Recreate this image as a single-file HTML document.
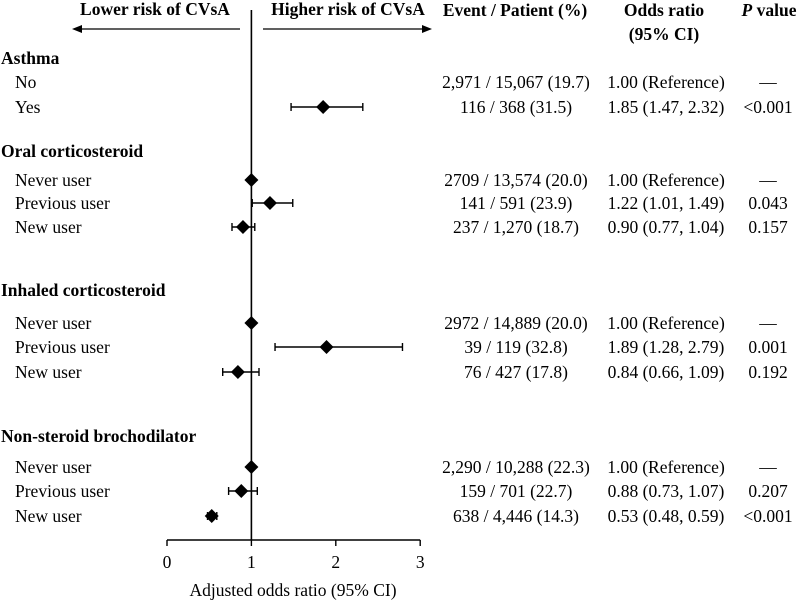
<!DOCTYPE html>
<html><head><meta charset="utf-8"><style>
body{margin:0;background:#fff}
svg text{font-family:"Liberation Serif",serif;fill:#000}
</style></head><body>
<svg width="800" height="603" viewBox="0 0 800 603" id="chart"></svg>
<script>
const labels=["Asthma","No","Yes","Oral corticosteroid","Never user","Previous user","New user","Inhaled corticosteroid","Never user","Previous user","New user","Non-steroid brochodilator","Never user","Previous user","New user"];
const isHeader=[1,0,0,1,0,0,0,1,0,0,0,1,0,0,0];
const rowY=[58,82,107,151,180,203,227,290,323,347,372,436,467,491,516];
const orVals=[null,null,1.85,null,1,1.22,0.90,null,1,1.89,0.84,null,1,0.88,0.53];
const loVals=[null,null,1.47,null,null,1.01,0.77,null,null,1.28,0.66,null,null,0.73,0.48];
const hiVals=[null,null,2.32,null,null,1.49,1.04,null,null,2.79,1.09,null,null,1.07,0.59];
const events=["","2,971 / 15,067 (19.7)","116 / 368 (31.5)","","2709 / 13,574 (20.0)","141 / 591 (23.9)","237 / 1,270 (18.7)","","2972 / 14,889 (20.0)","39 / 119 (32.8)","76 / 427 (17.8)","","2,290 / 10,288 (22.3)","159 / 701 (22.7)","638 / 4,446 (14.3)"];
const orText=["","1.00 (Reference)","1.85 (1.47, 2.32)","","1.00 (Reference)","1.22 (1.01, 1.49)","0.90 (0.77, 1.04)","","1.00 (Reference)","1.89 (1.28, 2.79)","0.84 (0.66, 1.09)","","1.00 (Reference)","0.88 (0.73, 1.07)","0.53 (0.48, 0.59)"];
const pText=["","\u2014","<0.001","","\u2014","0.043","0.157","","\u2014","0.001","0.192","","\u2014","0.207","<0.001"];
const ticks=[0,1,2,3];
const svg=document.getElementById('chart');
const NS='http://www.w3.org/2000/svg';
const x=v=>167+v*84.4;
const axisY=540;
const FS=17.5;
const HS=17.5;
function el(tag,attrs,txt){const e=document.createElementNS(NS,tag);for(const k in attrs)e.setAttribute(k,attrs[k]);if(txt!==undefined)e.textContent=txt;svg.appendChild(e);return e;}
let t;
t=el('text',{x:155,y:15,'font-size':HS,'font-weight':'bold','text-anchor':'middle'},'Lower risk of CVsA');

t=el('text',{x:348,y:15,'font-size':HS,'font-weight':'bold','text-anchor':'middle'},'Higher risk of CVsA');

t=el('line',{x1:240,y1:29,x2:80,y2:29,stroke:'#000','stroke-width':1.3});

el('polygon',{points:'72,29 82,25 82,33',fill:'#000'});
t=el('line',{x1:263,y1:29,x2:424,y2:29,stroke:'#000','stroke-width':1.3});

el('polygon',{points:'432,29 422,25 422,33',fill:'#000'});
t=el('text',{x:515,y:16,'font-size':HS,'font-weight':'bold','text-anchor':'middle'},'Event / Patient (%)');

t=el('text',{x:664,y:16,'font-size':HS,'font-weight':'bold','text-anchor':'middle'},'Odds ratio');

el('text',{x:664,y:40,'font-size':HS,'font-weight':'bold','text-anchor':'middle'},'(95% CI)');
t=el('text',{x:769,y:16,'font-size':HS,'font-weight':'bold','text-anchor':'middle'});
t.innerHTML='<tspan font-style="italic">P</tspan> value';

t=el('line',{x1:x(1),y1:10,x2:x(1),y2:axisY,stroke:'#000','stroke-width':1.6});

t=el('line',{x1:x(0),y1:axisY,x2:x(3),y2:axisY,stroke:'#000','stroke-width':1.4});

ticks.forEach(v=>{
  el('line',{x1:x(v),y1:axisY,x2:x(v),y2:axisY+6,stroke:'#000','stroke-width':1.4});
  const tl=el('text',{x:x(v),y:568,'font-size':FS,'text-anchor':'middle'},String(v));
  
});
t=el('text',{x:293,y:596,'font-size':FS,'text-anchor':'middle'},'Adjusted odds ratio (95% CI)');

labels.forEach((lab,i)=>{
  const y=rowY[i];
  const lt=el('text',{x:isHeader[i]?1:15,y:y+6,'font-size':isHeader[i]?HS:FS,'font-weight':isHeader[i]?'bold':'normal'},lab);
  
  
  if(events[i]){
    const a=el('text',{x:516,y:y+6,'font-size':FS,'text-anchor':'middle'},events[i]);
    
    const b=el('text',{x:666,y:y+6,'font-size':FS,'text-anchor':'middle'},orText[i]);
    
    const c=el('text',{x:768,y:y+6,'font-size':FS,'text-anchor':'middle'},pText[i]);
    
  }
  if(loVals[i]!=null){
    const w=el('line',{x1:x(loVals[i]),y1:y,x2:x(hiVals[i]),y2:y,stroke:'#000','stroke-width':1.4});
    
    el('line',{x1:x(loVals[i]),y1:y-4,x2:x(loVals[i]),y2:y+4,stroke:'#000','stroke-width':1.4});
    el('line',{x1:x(hiVals[i]),y1:y-4,x2:x(hiVals[i]),y2:y+4,stroke:'#000','stroke-width':1.4});
  }
  if(orVals[i]!=null){
    const cx=x(orVals[i]);
    const d=el('polygon',{points:`${cx-7},${y} ${cx},${y-7} ${cx+7},${y} ${cx},${y+7}`,fill:'#000'});
    
  }
});
</script>
</body></html>
